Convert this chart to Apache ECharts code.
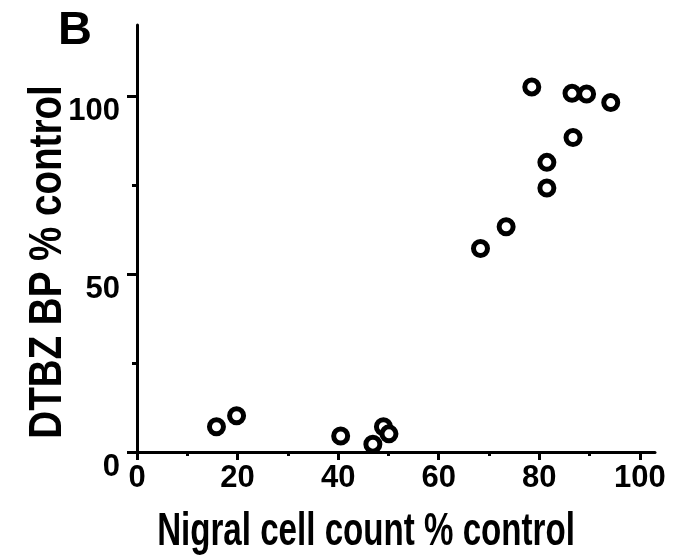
<!DOCTYPE html>
<html>
<head>
<meta charset="utf-8">
<script src="https://cdn.jsdelivr.net/npm/echarts@6/dist/echarts.min.js"></script>
<style>
html,body{margin:0;padding:0;background:#fff;}
#chart{width:684px;height:560px;}
</style>
</head>
<body>
<div id="chart"></div>
<script>
// Data
const nigralCellCount = [15.8, 19.8, 40.5, 46.9, 49.0, 50.1, 68.3, 73.4, 81.5, 81.5, 86.7, 78.5, 86.5, 89.4, 94.2];
const dtbzBP          = [7.1, 10.2, 4.5, 2.2, 7.1, 5.1, 57.2, 63.3, 74.2, 81.4, 88.4, 102.6, 100.8, 100.6, 98.2];
const xMajorTicks = [0, 20, 40, 60, 80, 100];
const xMinorTicks = [10, 30, 50, 70, 90];
const yMajorTicks = [0, 50, 100];
const yMinorTicks = [25, 75];
const panelLabel = 'B';
const xTitle = 'Nigral cell count % control';
const yTitle = 'DTBZ BP % control';

const points = nigralCellCount.map((x, i) => [x, dtbzBP[i]]);
const FONT = "'Liberation Sans', Arial, Helvetica, sans-serif";

const chart = echarts.init(document.getElementById('chart'), null, {renderer: 'canvas'});
const lineStyle = {color: '#000', width: 3};
chart.setOption({
  animation: false,
  backgroundColor: '#fff',
  grid: {left: 137, top: 25, right: 29, bottom: 108, containLabel: false},
  xAxis: [{
    type: 'value', min: 0, max: 103, interval: 20, position: 'bottom',
    axisLine: {show: true, onZero: false, lineStyle: lineStyle},
    axisTick: {show: true, length: 8, lineStyle: lineStyle, customValues: xMajorTicks},
    axisLabel: {show: true, customValues: xMajorTicks, color: '#000', fontFamily: FONT,
      fontWeight: 'bold', fontSize: 31, margin: 11},
    splitLine: {show: false}
  }, {
    type: 'value', min: 0, max: 103, interval: 10, position: 'bottom',
    axisLine: {show: false, onZero: false},
    axisTick: {show: true, length: 4, lineStyle: lineStyle, customValues: xMinorTicks},
    axisLabel: {show: false},
    splitLine: {show: false}
  }],
  yAxis: [{
    type: 'value', min: 0, max: 120, interval: 50, position: 'left',
    axisLine: {show: true, onZero: false, lineStyle: lineStyle},
    axisTick: {show: true, length: 10, lineStyle: lineStyle, customValues: yMajorTicks},
    axisLabel: {show: true, customValues: yMajorTicks, color: '#000', fontFamily: FONT,
      fontWeight: 'bold', fontSize: 31, margin: 17, verticalAlign: 'top'},
    splitLine: {show: false}
  }, {
    type: 'value', min: 0, max: 120, interval: 25, position: 'left',
    axisLine: {show: false, onZero: false},
    axisTick: {show: true, length: 5, lineStyle: lineStyle, customValues: yMinorTicks},
    axisLabel: {show: false},
    splitLine: {show: false}
  }],
  graphic: [
    {type: 'text', x: 75, y: 31, style: {text: panelLabel, font: 'bold 47px ' + FONT, fill: '#000',
      textAlign: 'center', textVerticalAlign: 'middle'}},
    {type: 'text', x: 48, y: 262, rotation: Math.PI / 2, scaleX: 0.82,
      style: {text: yTitle, font: 'bold 47px ' + FONT, fill: '#000',
      textAlign: 'center', textVerticalAlign: 'middle'}},
    {type: 'text', x: 366, y: 532, scaleX: 0.72,
      style: {text: xTitle, font: 'bold 46px ' + FONT, fill: '#000',
      textAlign: 'center', textVerticalAlign: 'middle'}}
  ],
  series: [{
    type: 'scatter', xAxisIndex: 0, yAxisIndex: 0,
    data: points, symbol: 'circle', symbolSize: 14,
    itemStyle: {color: '#fff', borderColor: '#000', borderWidth: 5, opacity: 1}
  }]
});
</script>
</body>
</html>
